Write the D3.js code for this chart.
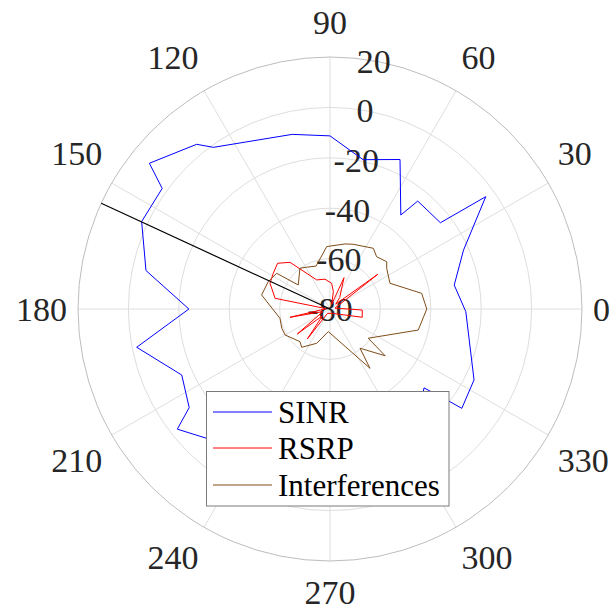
<!DOCTYPE html>
<html>
<head>
<meta charset="utf-8">
<script src="https://cdn.jsdelivr.net/npm/d3@7"></script>
<style>
  html, body { margin: 0; padding: 0; background: #fff; }
</style>
</head>
<body>
<svg id="chart" width="614" height="610"></svg>
<script>
// ---------- data (angle in degrees, value in dB) ----------
const sinrTheta = [-1.1, 10.9, 23.8, 35.8, 38, 50.9, 53, 64.9, 77.5, 90, 102.2, 125.8, 129, 141.1, 144.3, 155.1, 168.2, 180, 191.2, 204, 215, 218.2, 226.4, 240, 255, 270, 285, 300, 320, 322.3, 323, 333.8, 358.9];
const sinrValue = [-26.1, -29.8, -22.1, -3.8, -24.4, -24.8, -33.3, -14.5, -19.3, -11.3, -9.1, -0.9, 4.1, 12.1, 2.0, 2.4, -5.4, -24.0, -1.8, -15.6, -11.8, -2.9, -9.1, -12, -14, -10, -13, -15, -31.3, -19.8, -14.5, -16.3, -26.1];

const rsrpTheta = [-14.4, -1.8, 10, 36, 40, 50, 65.9, 70, 79, 86.3, 99.6, 114.6, 130.6, 138.9, 147.8, 156.8, 169, 175, 191.7, 200, 217.4, 222, 232.9, 240, 300, 345.6];
const rsrpValue = [-66.8, -67.2, -78, -56.6, -77, -74, -66.4, -78, -73, -69.8, -68, -67.3, -55.6, -52.4, -53.4, -54.1, -57.8, -78.5, -63.8, -77, -63.7, -76, -65.1, -78, -78, -66.8];

const intfTheta = [0, 9.7, 23.2, 35.7, 39.8, 48.3, 54.5, 70.2, 77, 93, 108, 119.2, 126.4, 142.9, 146.2, 156.1, 168.4, 190.5, 201.8, 210, 227.5, 233.5, 248.8, 265.7, 304, 307.4, 319.7, 322.6, 346.6, 360];
const intfValue = [-41.6, -43.1, -54.1, -52.3, -50.7, -52.2, -50.4, -52.7, -53.5, -55.2, -62.1, -61.0, -59.9, -64.2, -54.5, -53.2, -52.3, -59.8, -59.4, -59.4, -62.4, -61.1, -65.4, -71.0, -51.6, -60.4, -51.3, -60.9, -44.0, -41.6];

const markerTheta = [155.2, 155.2];
const markerValue = [-80, 20];

const angleTicks = [0, 30, 60, 90, 120, 150, 180, 210, 240, 270, 300, 330];
const radialTicks = [-80, -60, -40, -20, 0, 20];
const seriesNames = ["SINR", "RSRP", "Interferences"];
const seriesColors = ["#0000ff", "#ff0000", "#7f4c1a"];

// ---------- layout ----------
const FONT = "Liberation Serif, Times New Roman, DejaVu Serif, serif";
const cx = 330, cy = 309, R = 252;
const svg = d3.select("#chart");
const rScale = d3.scaleLinear().domain([-80, 20]).range([0, R]);
const rad = d => d * Math.PI / 180;
const px = (t, v) => cx + rScale(v) * Math.cos(rad(t));
const py = (t, v) => cy - rScale(v) * Math.sin(rad(t));

const g = svg.append("g");

// grid circles
g.selectAll("circle.grid").data(radialTicks.filter(v => v > -80 && v < 20)).enter()
  .append("circle").attr("cx", cx).attr("cy", cy).attr("r", d => rScale(d))
  .attr("fill", "none").attr("stroke", "#dedede").attr("stroke-width", 1);

// spokes
g.selectAll("line.spoke").data(angleTicks).enter().append("line")
  .attr("x1", cx).attr("y1", cy)
  .attr("x2", d => px(d, 20)).attr("y2", d => py(d, 20))
  .attr("stroke", "#dedede").attr("stroke-width", 1);

// outer circle
g.append("circle").attr("cx", cx).attr("cy", cy).attr("r", rScale(20))
  .attr("fill", "none").attr("stroke", "#bdbdbd").attr("stroke-width", 1);

// radial tick labels along 80 deg
g.selectAll("text.rt").data(radialTicks).enter().append("text")
  .attr("font-family", FONT).attr("fill", "#262626")
  .attr("x", d => px(80, d)).attr("y", d => py(80, d))
  .attr("dy", "0.35em").attr("text-anchor", "middle")
  .attr("font-size", 34)
  .text(d => d);

// angle labels (box aligned to the ray end)
const Rg = R + 11;
g.selectAll("text.at").data(angleTicks).enter().append("text")
  .attr("font-family", FONT).attr("fill", "#262626")
  .attr("font-size", 34).attr("text-anchor", "middle").attr("dy", "0.35em")
  .text(d => d)
  .each(function(d) {
    const w = this.getComputedTextLength();
    const c = Math.cos(rad(d)), s = Math.sin(rad(d));
    const sx = Math.abs(c) < 0.01 ? 0 : Math.sign(c);
    const sy = Math.abs(s) < 0.01 ? 0 : Math.sign(s);
    const x = cx + Rg * c + sx * w / 2;
    const y = cy - Rg * s - (sy > 0 ? 24 : sy < 0 ? -20 : 0);
    d3.select(this).attr("x", x).attr("y", y);
  });

// data lines
const lineGen = d3.lineRadial()
  .angle(d => rad(90 - d[0]))
  .radius(d => rScale(d[1]));

const series = [
  [sinrTheta, sinrValue],
  [rsrpTheta, rsrpValue],
  [intfTheta, intfValue]
];
const dg = svg.append("g").attr("transform", `translate(${cx},${cy})`);
series.forEach((s, i) => {
  dg.append("path").datum(d3.zip(s[0], s[1]))
    .attr("d", lineGen).attr("fill", "none")
    .attr("stroke", seriesColors[i]).attr("stroke-width", 1)
    .attr("stroke-linejoin", "miter");
});
dg.append("path").datum(d3.zip(markerTheta, markerValue))
  .attr("d", lineGen).attr("fill", "none").attr("stroke", "#000").attr("stroke-width", 1.2);

// legend
const lg = svg.append("g");
lg.append("rect").attr("x", 206.5).attr("y", 391.5).attr("width", 242.5).attr("height", 114.5)
  .attr("fill", "#fff").attr("stroke", "#7a7a7a").attr("stroke-width", 1);
const rowY = [412, 448, 485];
seriesNames.forEach((n, i) => {
  lg.append("line").attr("x1", 213).attr("x2", 272).attr("y1", rowY[i]).attr("y2", rowY[i])
    .attr("stroke", seriesColors[i]).attr("stroke-width", 1);
  lg.append("text").attr("x", 278).attr("y", rowY[i]).attr("dy", "0.35em")
    .attr("font-family", FONT).attr("font-size", 31).attr("fill", "#000").text(n);
});
</script>
</body>
</html>
